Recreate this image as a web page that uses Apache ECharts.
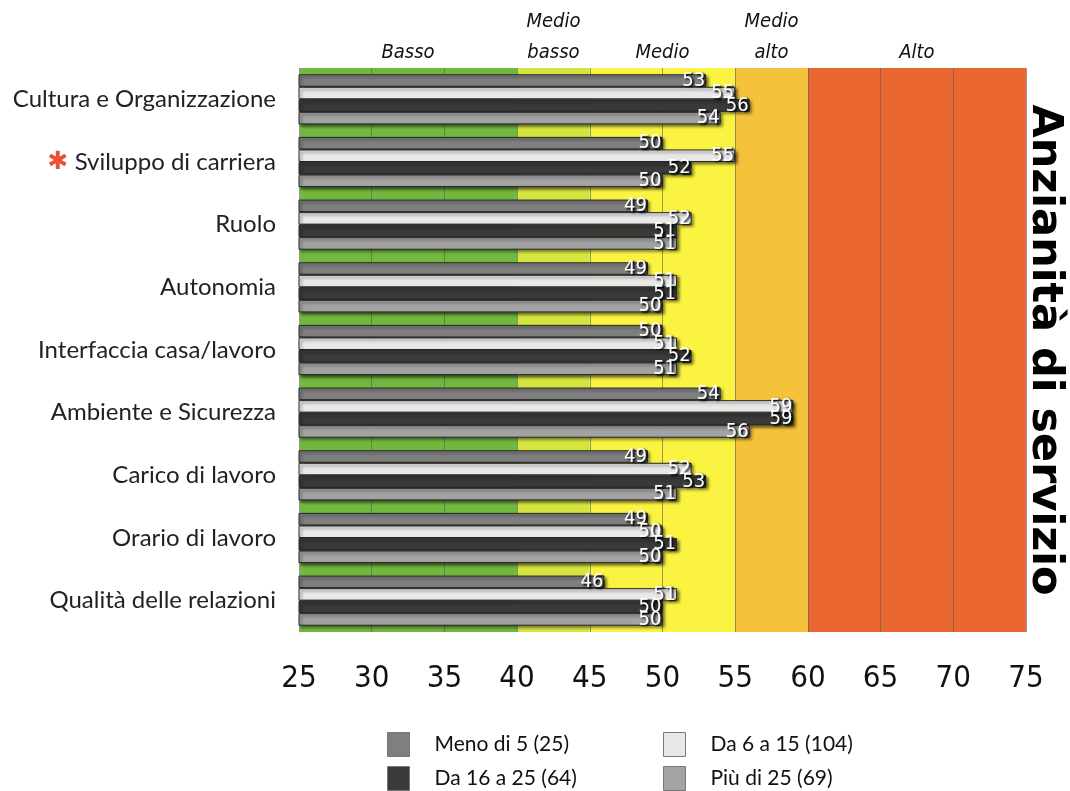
<!DOCTYPE html>
<html>
<head>
<meta charset="utf-8">
<title>Anzianità di servizio</title>
<script src="https://cdn.jsdelivr.net/npm/echarts@6/dist/echarts.min.js"></script>
<style>
  html, body { margin: 0; padding: 0; background: #ffffff; }
  #chart { width: 1070px; height: 791px; }
</style>
</head>
<body>
<div id="chart"></div>
<script>
// categorie (dall'alto verso il basso)
const categories = [
  'Cultura e Organizzazione',
  'Sviluppo di carriera',
  'Ruolo',
  'Autonomia',
  'Interfaccia casa/lavoro',
  'Ambiente e Sicurezza',
  'Carico di lavoro',
  'Orario di lavoro',
  'Qualità delle relazioni',
];
// categorie con l'asterisco rosso
const starred = ['Sviluppo di carriera'];

const seriesNames = ['Meno di 5 (25)', 'Da 6 a 15 (104)', 'Da 16 a 25 (64)', 'Più di 25 (69)'];
const menoDi5 = [53, 50, 49, 49, 50, 54, 49, 49, 46];
const da6a15 = [55, 55, 52, 51, 51, 59, 52, 50, 51];
const da16a25 = [56, 52, 51, 51, 52, 59, 53, 51, 50];
const piuDi25 = [54, 50, 51, 50, 51, 56, 51, 50, 50];

// fasce di livello sull'asse x
const bandNames = ['Basso', 'Medio\nbasso', 'Medio', 'Medio\nalto', 'Alto'];
const bandFrom = [25, 40, 45, 55, 60];
const bandTo = [40, 45, 55, 60, 75];

const xMin = 25;
const xMax = 75;
const xStep = 5;

const barColors = ['#7f7f7f', '#e8e8e8', '#3a3a3a', '#a3a3a3'];
const bandColors = ['#72b83e', '#d5e53f', '#faf342', '#f4c23b', '#e96631'];

const condensed = '"Liberation Sans Narrow", "DejaVu Sans Condensed", sans-serif';
const humanist = 'Lato, "Noto Sans", sans-serif';

// colore di ogni intervallo della griglia, preso dalla fascia che lo contiene
const splitColors = [];
for (let v = xMin; v < xMax; v += xStep) {
  const i = bandFrom.findIndex((f, k) => v >= f && v < bandTo[k]);
  splitColors.push(bandColors[i]);
}

const chart = echarts.init(document.getElementById('chart'));

const seriesData = [menoDi5, da6a15, da16a25, piuDi25];

const series = seriesData.map((data, idx) => {
  const s = {
    name: seriesNames[idx],
    type: 'bar',
    data: data,
    barGap: '0%',
    barCategoryGap: '20%',
    itemStyle: {
      color: barColors[idx],
      borderColor: '#2a2a2a',
      borderWidth: 1,
      shadowColor: 'rgba(0,0,0,0.55)',
      shadowBlur: 3,
      shadowOffsetX: 2,
      shadowOffsetY: 2,
    },
    label: {
      show: true,
      position: 'insideRight',
      distance: 1,
      fontFamily: condensed,
      fontSize: 20,
      color: '#ffffff',
      textShadowColor: '#000000',
      textShadowBlur: 2,
      textShadowOffsetX: 2,
      textShadowOffsetY: 1.5,
    },
    emphasis: { disabled: true },
  };
  if (idx === 0) {
    // solo per le etichette delle fasce sopra il grafico
    s.markArea = {
      silent: true,
      itemStyle: { color: 'rgba(0,0,0,0)' },
      label: {
        show: true,
        position: 'top',
        distance: 0,
        fontFamily: condensed,
        fontStyle: 'italic',
        fontSize: 20,
        lineHeight: 31,
        color: '#111111',
      },
      data: bandNames.map((n, i) => [{ name: n, xAxis: bandFrom[i] }, { xAxis: bandTo[i] }]),
    };
  }
  return s;
});

const legendBase = {
  orient: 'vertical',
  top: 732,
  padding: 0,
  icon: 'rect',
  itemWidth: 22,
  itemHeight: 24,
  itemGap: 9,
  itemStyle: { borderColor: '#777777', borderWidth: 1, shadowBlur: 0, shadowOffsetX: 0, shadowOffsetY: 0 },
  textStyle: { fontFamily: humanist, fontSize: 21, color: '#111111', padding: [0, 0, 0, 20] },
};

const option = {
  animation: false,
  grid: {
    left: 299,
    right: 44,
    top: 68,
    bottom: 159,
  },
  xAxis: {
    type: 'value',
    min: xMin,
    max: xMax,
    interval: xStep,
    axisLine: { show: false },
    axisTick: { show: false },
    axisLabel: {
      margin: 31,
      fontFamily: condensed,
      fontSize: 31,
      color: '#111111',
    },
    splitLine: {
      show: true,
      lineStyle: { color: 'rgba(90,90,90,0.6)', width: 1 },
    },
    splitArea: {
      show: true,
      areaStyle: { color: splitColors },
    },
  },
  yAxis: {
    type: 'category',
    inverse: true,
    data: categories,
    axisLine: { show: true, lineStyle: { color: '#999999' } },
    axisTick: { show: false },
    axisLabel: {
      margin: 23,
      fontFamily: humanist,
      fontSize: 24,
      color: '#222222',
      formatter: (v) => (starred.includes(v) ? '{star|✱} ' + v : v),
      rich: {
        star: {
          color: '#ea4f37',
          fontSize: 25,
          fontFamily: '"DejaVu Sans", sans-serif',
        },
      },
    },
  },
  legend: [
    Object.assign({}, legendBase, { left: 387, data: [seriesNames[0], seriesNames[2]] }),
    Object.assign({}, legendBase, { left: 663, data: [seriesNames[1], seriesNames[3]] }),
  ],
  graphic: [
    {
      type: 'text',
      x: 1044,
      y: 350,
      rotation: -Math.PI / 2,
      style: {
        text: 'Anzianità di servizio',
        font: 'bold 43px "DejaVu Sans", sans-serif',
        fill: '#000000',
        align: 'center',
        verticalAlign: 'middle',
      },
    },
  ],
  series: series,
};

chart.setOption(option);

window.addEventListener('resize', () => {
  chart.resize();
});
</script>
</body>
</html>
